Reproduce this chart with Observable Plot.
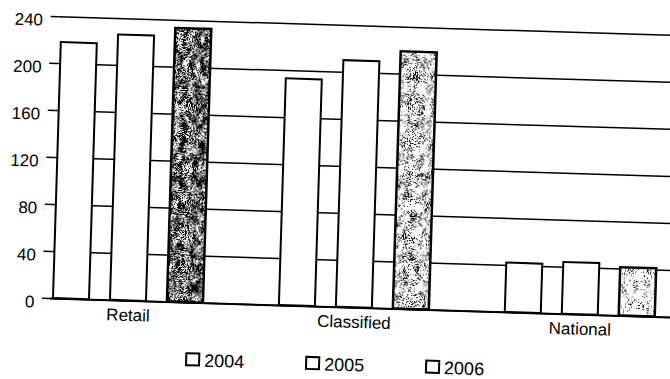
<!DOCTYPE html>
<html>
<head>
<meta charset="utf-8">
<script src="https://cdn.jsdelivr.net/npm/d3@7"></script>
<script src="https://cdn.jsdelivr.net/npm/@observablehq/plot@0.6"></script>
<style>
  html, body { margin: 0; padding: 0; background: #fff; overflow: hidden; width: 670px; height: 379px; }
  #page {
    position: relative; width: 700px; height: 379px;
    transform: rotate(1.75deg); transform-origin: 50px 298px;
    font-family: "Liberation Sans", Arial, sans-serif; color: #000;
  }
  #legend { position: absolute; left: 0; top: 348px; width: 700px; height: 18px; }
  .item { position: absolute; top: 0; display: flex; align-items: flex-start; font-size: 18px; line-height: 15px; white-space: nowrap; }
  .item span { padding-top: 1px; }
  .box { width: 15px; height: 14px; border: 2px solid #000; box-sizing: border-box; background: #fff; margin-right: 4px; }
  .box.bold { border-width: 2.5px; }
</style>
</head>
<body>
<div id="page">
  <div id="chart"></div>
  <div id="legend"></div>
</div>
<script>
// Revenue by advertising category, three years
const categories = ["Retail", "Classified", "National"];
const years = ["2004", "2005", "2006"];
const values2004 = [218, 193, 42];
const values2005 = [226, 210, 44];
const values2006 = [233, 219, 41];
const yTicks = [0, 40, 80, 120, 160, 200, 240];

const series = [values2004, values2005, values2006];
const rows = categories.flatMap((category, j) =>
  years.map((year, i) => ({category, year, value: series[i][j]}))
);

// 2006 bars are stippled; the grain gets lighter from group to group
const stippleDensity = {Retail: 4.3, Classified: 5.5, National: 6.3};
const stippleFill = (d) => `url(#stipple-${d.category})`;

const chart = Plot.plot({
  width: 700,
  height: 330,
  marginLeft: 50,
  marginRight: 0,
  marginTop: 16,
  marginBottom: 32,
  style: {
    fontFamily: '"Liberation Sans", Arial, sans-serif',
    fontSize: "17px",
    color: "#000",
    background: "transparent",
    overflow: "visible"
  },
  x: {
    type: "band",
    domain: categories,
    range: [13.75, 693.25],
    paddingInner: 0.841,
    paddingOuter: 0.4205,
    label: null
  },
  y: {domain: [0, 240], label: null},
  color: {type: "identity"},
  marks: [
    Plot.ruleY(yTicks, {stroke: "#000", strokeWidth: 1.5}),
    Plot.ruleY([0], {stroke: "#000", strokeWidth: 2}),
    ...years.map((year, i) =>
      Plot.barY(rows.filter((d) => d.year === year), {
        x: "category",
        y: "value",
        dx: (i - 1) * 57,
        fill: i === 2 ? stippleFill : "#fff",
        stroke: "#000",
        strokeWidth: i === 2 ? 2.5 : 2
      })
    ),
    Plot.axisY(yTicks, {tickSize: 8, tickFormat: () => "", strokeWidth: 1.5, label: null}),
    Plot.axisY(yTicks, {tickSize: 0, tickPadding: 16, dy: 4, label: null}),
    Plot.axisX({tickSize: 0, tickPadding: 8, label: null})
  ]
});

// grain filters and patterns for the stippled bars
const defs = categories.map((c) => `
  <filter id="grain-${c}" filterUnits="userSpaceOnUse" x="0" y="0" width="700" height="330">
    <feTurbulence type="fractalNoise" baseFrequency="0.95" numOctaves="2" seed="5" result="fine"/>
    <feTurbulence type="fractalNoise" baseFrequency="0.16 0.1" numOctaves="2" seed="17" result="coarse"/>
    <feColorMatrix in="fine" type="matrix"
      values="0 0 0 0 0  0 0 0 0 0  0 0 0 0 0  1 0 0 0 0" result="a1"/>
    <feColorMatrix in="coarse" type="matrix"
      values="0 0 0 0 0  0 0 0 0 0  0 0 0 0 0  1 0 0 0 0" result="a2"/>
    <feComposite in="a1" in2="a2" operator="arithmetic" k1="0" k2="1" k3="0.5" k4="-0.25" result="sum"/>
    <feColorMatrix in="sum" type="matrix"
      values="0 0 0 0 0  0 0 0 0 0  0 0 0 0 0  0 0 0 10 -${stippleDensity[c]}" result="mask"/>
    <feComposite in="SourceGraphic" in2="mask" operator="in"/>
  </filter>
  <pattern id="stipple-${c}" patternUnits="userSpaceOnUse" x="0" y="0" width="700" height="330">
    <rect width="700" height="330" fill="#fff"/>
    <rect width="700" height="330" fill="#000" filter="url(#grain-${c})"/>
  </pattern>`).join("");
d3.select(chart).insert("defs", ":first-child").html(defs);

document.getElementById("chart").appendChild(chart);

// legend row
const legend = d3.select("#legend");
years.forEach((year, i) => {
  const item = legend.append("div").attr("class", "item").style("left", `${187 + i * 120}px`);
  item.append("div").attr("class", i === 2 ? "box bold" : "box");
  item.append("span").text(year);
});
</script>
</body>
</html>
